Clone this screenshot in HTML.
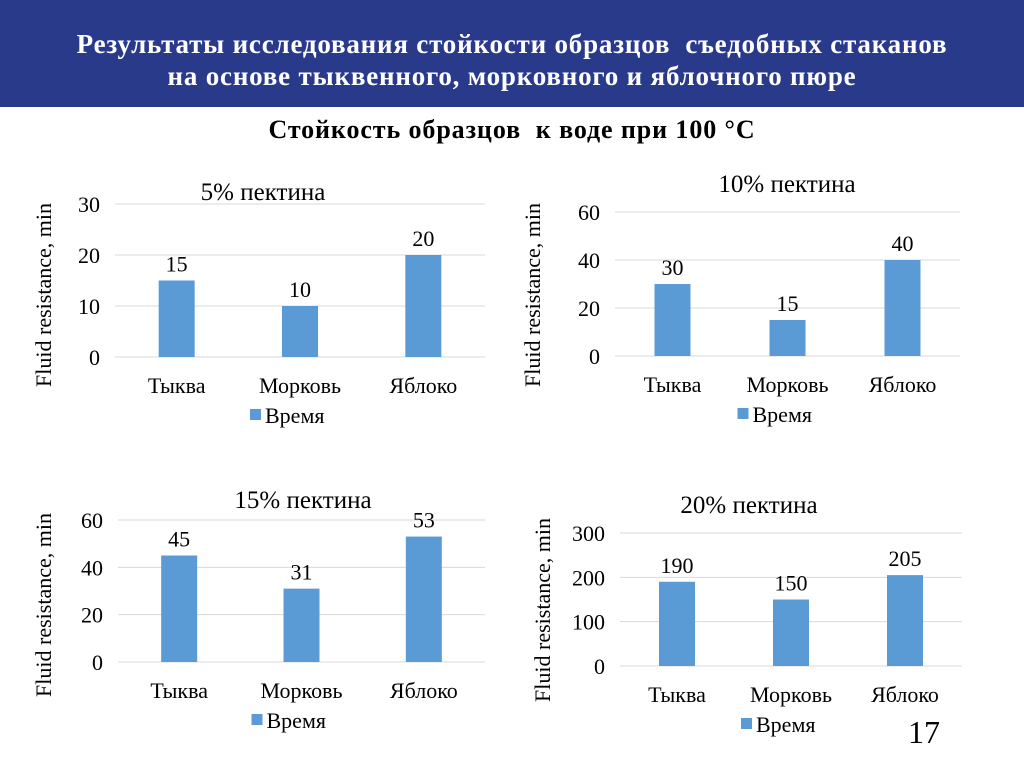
<!DOCTYPE html>
<html><head><meta charset="utf-8">
<style>
body{margin:0;width:1024px;height:767px;background:#fff;overflow:hidden;font-family:"Liberation Serif","Noto Serif CJK SC",serif;}
#hdr{position:absolute;left:0;top:0;width:1024px;height:107px;background:#293a8b;color:#fff;text-align:center;font-weight:bold;font-size:27px;letter-spacing:0.8px;}
#hdr div{position:absolute;left:0;width:1024px;}
#sub{position:absolute;left:0;top:115px;width:1024px;text-align:center;font-weight:bold;font-size:26px;letter-spacing:0.9px;}
#pg{position:absolute;left:908px;top:714px;font-size:32px;}
svg{position:absolute;left:0;top:0;}
</style></head><body>
<div id="hdr">
<div style="top:29px">Результаты исследования стойкости образцов&nbsp; съедобных стаканов</div>
<div style="top:61px">на основе тыквенного, морковного и яблочного пюре</div>
</div>
<div id="sub">Стойкость образцов&nbsp; к воде при 100 °С</div>
<div id="pg">17</div>
<svg id="svg" width="1024" height="767"></svg>
<script>
const categories = ["Тыква","Морковь","Яблоко"];
const values5 = [15,10,20];
const values10 = [30,15,40];
const values15 = [45,31,53];
const values20 = [190,150,205];
const ticks5 = [0,10,20,30];
const ticks10 = [0,20,40,60];
const ticks15 = [0,20,40,60];
const ticks20 = [0,100,200,300];
const titles = ["5% пектина","10% пектина","15% пектина","20% пектина"];

const NS="http://www.w3.org/2000/svg";
const svg=document.getElementById('svg');
function mk(tag,attrs,text){const e=document.createElementNS(NS,tag);for(const k in attrs)e.setAttribute(k,attrs[k]);if(text!==undefined)e.textContent=text;svg.appendChild(e);return e;}

function chart(name,title,vals,ticks,L){
  const max=ticks[ticks.length-1];
  const y=v=>L.yBot-(v/max)*(L.yBot-L.yTop);
  const band=(L.x1-L.x0)/categories.length;
  const cx=i=>L.x0+band*(i+0.5);
  ticks.forEach(t=>{
    const g=mk('line',{x1:L.x0,x2:L.x1,y1:y(t),y2:y(t),stroke:'#d9d9d9','stroke-width':1});
    
    
    const tl=mk('text',{x:L.x0-15,y:y(t)+8,'text-anchor':'end','font-size':22},String(t));
    
    
  });
  vals.forEach((v,i)=>{
    const b=mk('rect',{x:cx(i)-18,y:y(v),width:36,height:L.yBot-y(v),fill:'#5b9bd5'});
    
    
    const t=mk('text',{x:cx(i),y:y(v)-9,'text-anchor':'middle','font-size':22},String(v));
    
    
    const c=mk('text',{x:cx(i),y:L.yBot+36,'text-anchor':'middle','font-size':22},categories[i]);
    
    
  });
  const ti=mk('text',{x:L.titleX,y:L.titleY,'text-anchor':'middle','font-size':25},title);
  
  
  const ax=mk('text',{x:0,y:0,'text-anchor':'middle','font-size':22,transform:`translate(${L.axX},${L.axY}) rotate(-90)`},'Fluid resistance, min');
  
  
  const lx=(L.x0+L.x1)/2-40;
  const ls=mk('rect',{x:lx-10,y:L.yBot+52,width:11,height:11,fill:'#5b9bd5'});
  
  
  const lt=mk('text',{x:lx+5,y:L.yBot+66,'font-size':22},'Время');
  
  
}
chart('chart-5',titles[0],values5,ticks5,{x0:115,x1:485,yTop:204,yBot:357,titleX:263,titleY:200,axX:51,axY:295});
chart('chart-10',titles[1],values10,ticks10,{x0:615,x1:960,yTop:212,yBot:356,titleX:787,titleY:192,axX:540,axY:295});
chart('chart-15',titles[2],values15,ticks15,{x0:118,x1:485,yTop:520,yBot:662,titleX:303,titleY:508,axX:51,axY:605});
chart('chart-20',titles[3],values20,ticks20,{x0:620,x1:962,yTop:533,yBot:666,titleX:749,titleY:513,axX:550,axY:610});
</script>
</body></html>
